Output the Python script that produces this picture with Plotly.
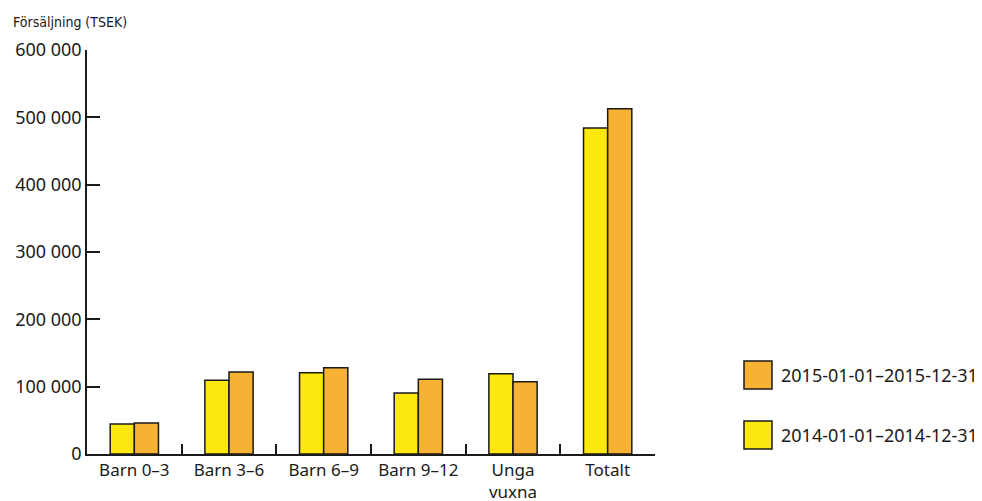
import plotly.graph_objects as go

categories = ["Barn 0–3", "Barn 3–6", "Barn 6–9", "Barn 9–12", "Unga<br>vuxna", "Totalt"]
series_2014 = [44600, 109500, 120800, 90600, 119300, 484000]
series_2015 = [46000, 121800, 128200, 111000, 107400, 512600]
name_2014 = "2014-01-01–2014-12-31"
name_2015 = "2015-01-01–2015-12-31"
y_ticks = [0, 100000, 200000, 300000, 400000, 500000, 600000]
y_ticktext = ["0", "100 000", "200 000", "300 000", "400 000", "500 000", "600 000"]

YELLOW = "#FCE80C"
ORANGE = "#F7B133"
FONT = "Noto Sans"

fig = go.Figure()
fig.add_trace(go.Bar(x=categories, y=series_2014, name=name_2014,
                     marker=dict(color=YELLOW, line=dict(color="#1a1a1a", width=1.5)),
                     showlegend=False))
fig.add_trace(go.Bar(x=categories, y=series_2015, name=name_2015,
                     marker=dict(color=ORANGE, line=dict(color="#1a1a1a", width=1.5)),
                     showlegend=False))

# page body has an 8px default margin; compensate so the plot lands where the reference has it
fig.update_layout(
    width=974, height=493,
    margin=dict(l=79, r=327, t=42, b=47),
    paper_bgcolor="white", plot_bgcolor="white",
    barmode="group", bargap=0.49, bargroupgap=0,
    font=dict(family=FONT, size=17, color="#1a1a1a"),
    xaxis=dict(showline=True, linecolor="#1a1a1a", linewidth=1.5,
               ticks="inside", tickson="boundaries", ticklen=10, tickwidth=1.5,
               tickcolor="#1a1a1a", showgrid=False, fixedrange=True, automargin=False),
    yaxis=dict(range=[0, 600000], tickvals=y_ticks, ticktext=y_ticktext,
               tickfont=dict(size=18),
               showline=True, linecolor="#1a1a1a", linewidth=1.5,
               ticks="inside", ticklen=13, tickwidth=1.5, tickcolor="#1a1a1a",
               showgrid=False, zeroline=False, fixedrange=True, automargin=False),
)

pw, ph = 568, 404
def px(xp):
    return (xp - 87) / pw
def py(yp):
    return (454 - yp) / ph

# y-axis title
fig.add_annotation(text="Försäljning (TSEK)", xref="paper", yref="paper",
                   x=px(11), y=py(22), xanchor="left", yanchor="middle",
                   showarrow=False, font=dict(family="DejaVu Sans Condensed", size=14, color="#1a1a1a"))

# custom legend (2015 on top)
for color, name, yc in [(ORANGE, name_2015, 375), (YELLOW, name_2014, 435)]:
    fig.add_shape(type="rect", xref="paper", yref="paper",
                  x0=px(744), x1=px(772), y0=py(yc + 14), y1=py(yc - 14),
                  fillcolor=color, line=dict(color="#1a1a1a", width=1.5))
    fig.add_annotation(text=name, xref="paper", yref="paper", x=px(779), y=py(yc),
                       xanchor="left", yanchor="middle", showarrow=False,
                       font=dict(family=FONT, size=18, color="#1a1a1a"))

fig.write_html("out.html")
